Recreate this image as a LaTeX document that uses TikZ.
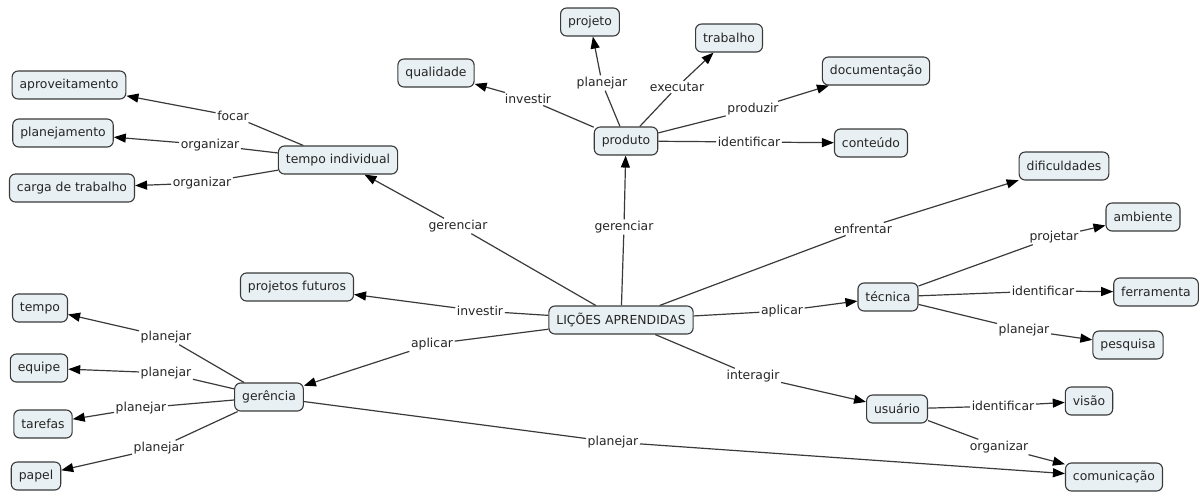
\documentclass[tikz,border=0pt]{standalone}
\usepackage{fontspec}
\setmainfont{DejaVu Sans}
\usepackage{tikz}
\usetikzlibrary{arrows.meta}
\tikzset{>={Triangle[width=9pt,length=12pt,color=black]}}
\definecolor{boxfill}{HTML}{E8F0F3}
\definecolor{linegray}{HTML}{3A3A3A}

\begin{document}
\begin{tikzpicture}[x=1pt,y=-1pt]
      \tikzstyle{cnode} = [draw=linegray, fill=boxfill, line width=1.1pt, rounded corners=6pt, minimum height=28pt, inner xsep=7.5pt, font=\fontsize{12.4}{14}\selectfont, text=black!85]
      \tikzstyle{lnode} = [inner sep=1.5pt, font=\fontsize{12.4}{14}\selectfont, text=black!85]
      \tikzstyle{link} = [draw=linegray, line width=1.2pt]

      \useasboundingbox (0,0) rectangle (1204,491);

      % concepts
      \node[cnode] (licoes) at (621,320) {LIÇÕES APRENDIDAS};
      \node[cnode] (tempoind) at (338,160) {tempo individual};
      \node[cnode] (aprov) at (69,85) {aproveitamento};
      \node[cnode] (planej) at (63,133) {planejamento};
      \node[cnode] (carga) at (72,188) {carga de trabalho};
      \node[cnode] (produto) at (626,141) {produto};
      \node[cnode] (qualidade) at (436,73) {qualidade};
      \node[cnode] (projeto) at (590,22) {projeto};
      \node[cnode] (trabalho) at (729,38) {trabalho};
      \node[cnode] (docum) at (876,71) {documentação};
      \node[cnode] (conteudo) at (871,143) {conteúdo};
      \node[cnode] (dific) at (1064,166) {dificuldades};
      \node[cnode] (tecnica) at (888,297) {técnica};
      \node[cnode] (ambiente) at (1143,217) {ambiente};
      \node[cnode] (ferramenta) at (1156,292) {ferramenta};
      \node[cnode] (pesquisa) at (1128,345) {pesquisa};
      \node[cnode] (futuros) at (297,287) {projetos futuros};
      \node[cnode] (gerencia) at (269,397) {gerência};
      \node[cnode] (tempo) at (40,308) {tempo};
      \node[cnode] (equipe) at (39,368) {equipe};
      \node[cnode] (tarefas) at (43,424) {tarefas};
      \node[cnode] (papel) at (36,476) {papel};
      \node[cnode] (usuario) at (897,409) {usuário};
      \node[cnode] (visao) at (1089,401) {visão};
      \node[cnode] (comunic) at (1114,477) {comunicação};

      % linking phrases
      \node[lnode] (lfocar) at (233,116) {focar};
      \node[lnode] (lorgplan) at (210,145) {organizar};
      \node[lnode] (lorgcarga) at (202,183) {organizar};
      \node[lnode] (linvqual) at (528,99) {investir};
      \node[lnode] (lplanproj) at (602,83) {planejar};
      \node[lnode] (lexec) at (677,87) {executar};
      \node[lnode] (lprod) at (753,109) {produzir};
      \node[lnode] (lidcont) at (749,142) {identificar};
      \node[lnode] (lgertemp) at (458,226) {gerenciar};
      \node[lnode] (lgerprod) at (624,227) {gerenciar};
      \node[lnode] (lenfr) at (863,229) {enfrentar};
      \node[lnode] (linvfut) at (480,311) {investir};
      \node[lnode] (laptec) at (782,311) {aplicar};
      \node[lnode] (lapger) at (432,344) {aplicar};
      \node[lnode] (linter) at (753,376) {interagir};
      \node[lnode] (lproj) at (1054,237) {projetar};
      \node[lnode] (lidferr) at (1043,291) {identificar};
      \node[lnode] (lplanpesq) at (1024,330) {planejar};
      \node[lnode] (lpltempo) at (166,337) {planejar};
      \node[lnode] (lplequipe) at (166,373) {planejar};
      \node[lnode] (lpltaref) at (141,408) {planejar};
      \node[lnode] (lplpapel) at (159,448) {planejar};
      \node[lnode] (lplcom) at (613,442) {planejar};
      \node[lnode] (lidvisao) at (1003,406) {identificar};
      \node[lnode] (lorgcom) at (999,447) {organizar};

      % links
      \draw[link] (tempoind) to (lfocar);
      \draw[link,->] (lfocar) to (aprov);
      \draw[link] (tempoind) to (lorgplan);
      \draw[link,->] (lorgplan) to (planej);
      \draw[link] (tempoind) to (lorgcarga);
      \draw[link,->] (lorgcarga) to (carga);

      \draw[link] (produto) to (linvqual);
      \draw[link,->] (linvqual) to (qualidade);
      \draw[link] (produto) to (lplanproj);
      \draw[link,->] (lplanproj) to (projeto);
      \draw[link] (produto) to (lexec);
      \draw[link,->] (lexec) to (trabalho);
      \draw[link] (produto) to (lprod);
      \draw[link,->] (lprod) to (docum);
      \draw[link] (produto) to (lidcont);
      \draw[link,->] (lidcont) to (conteudo);

      \draw[link] (licoes) to (lgertemp);
      \draw[link,->] (lgertemp) to (tempoind);
      \draw[link] (licoes) to (lgerprod);
      \draw[link,->] (lgerprod) to (produto);
      \draw[link] (licoes) to (lenfr);
      \draw[link,->] (lenfr) to (dific);
      \draw[link] (licoes) to (linvfut);
      \draw[link,->] (linvfut) to (futuros);
      \draw[link] (licoes) to (laptec);
      \draw[link,->] (laptec) to (tecnica);
      \draw[link] (licoes) to (lapger);
      \draw[link,->] (lapger) to (gerencia);
      \draw[link] (licoes) to (linter);
      \draw[link,->] (linter) to (usuario);

      \draw[link] (tecnica) to (lproj);
      \draw[link,->] (lproj) to (ambiente);
      \draw[link] (tecnica) to (lidferr);
      \draw[link,->] (lidferr) to (ferramenta);
      \draw[link] (tecnica) to (lplanpesq);
      \draw[link,->] (lplanpesq) to (pesquisa);

      \draw[link] (gerencia) to (lpltempo);
      \draw[link,->] (lpltempo) to (tempo);
      \draw[link] (gerencia) to (lplequipe);
      \draw[link,->] (lplequipe) to (equipe);
      \draw[link] (gerencia) to (lpltaref);
      \draw[link,->] (lpltaref) to (tarefas);
      \draw[link] (gerencia) to (lplpapel);
      \draw[link,->] (lplpapel) to (papel);
      \draw[link] (gerencia) to (lplcom);
      \draw[link,->] (lplcom) to (comunic);

      \draw[link] (usuario) to (lidvisao);
      \draw[link,->] (lidvisao) to (visao);
      \draw[link] (usuario) to (lorgcom);
      \draw[link,->] (lorgcom) to (comunic);
\end{tikzpicture}
\end{document}
